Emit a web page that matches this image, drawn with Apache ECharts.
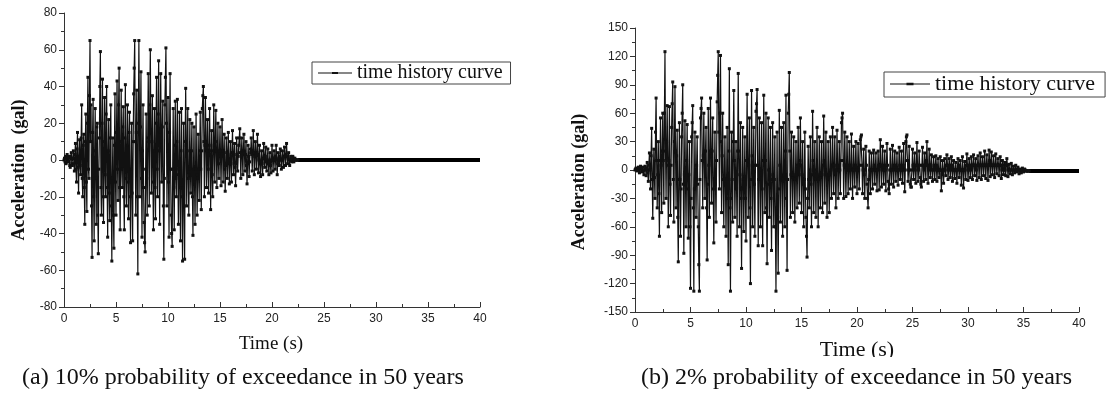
<!DOCTYPE html>
<html><head><meta charset="utf-8">
<script src="https://cdn.jsdelivr.net/npm/echarts@6/dist/echarts.min.js"></script>
<style>html,body{margin:0;padding:0;background:#fff}#c{width:1107px;height:405px}</style>
</head><body><div id="c"></div>
<script>
// sampling step (s) of the digitised records
const dtA = 0.05, dtB = 0.05;
// (a) 10% in 50 years, values every 0.05 s from t=0 (one row per second)
const accA = [
 0,1,-1,2,-2,1,3,-1,-1,2,1,-3,-4,2,4,-2,-3,1,5,-2,
 -6,3,9,-5,-12,6,15,-4,-18,2,11,-3,-8,12,30,-10,-20,8,14,-15,
 -35,10,25,-12,-28,20,45,-5,-10,35,65,10,30,-25,-53,15,33,-20,-44,5,
 28,-10,-35,18,20,-30,-51,-5,12,40,59,-15,-30,20,44,-20,-34,10,34,-8,
 -20,25,40,-15,-42,5,22,-18,-33,12,30,-25,-55,-10,12,-30,-48,8,36,-12,
 -30,15,43,-5,-22,30,50,-15,-38,10,38,-5,-15,18,29,-20,-38,12,41,-10,
 -25,8,30,-12,-32,15,26,-20,-45,-5,20,-18,-44,10,36,50,65,10,-30,15,
 38,-20,-62,20,65,25,-20,18,48,-10,-42,5,30,-15,-34,-45,-50,-5,25,-10,
 -30,12,47,10,-25,30,60,15,-18,10,35,-12,-38,5,28,-15,-32,20,45,-5,
 -20,25,54,5,-35,15,47,10,-12,18,32,-25,-54,-10,30,45,61,20,-25,5,
 34,-12,-42,15,47,-5,-30,-40,-47,-5,28,-15,-38,8,32,-10,-20,10,33,-8,
 -35,-5,26,-15,-44,5,28,-20,-55,-15,20,-25,-54,10,39,8,-25,5,28,-10,
 -30,-8,22,-5,-18,5,20,-20,-41,-5,18,-12,-35,-5,25,-8,-30,-10,14,-5,
 -22,5,26,-5,-27,5,28,35,40,10,-20,8,34,10,-15,5,22,-5,-18,8,
 28,5,-27,-5,16,-8,-20,5,30,8,-12,10,27,5,-15,3,20,-2,-10,5,
 18,2,-14,3,22,5,-12,2,14,-5,-17,-3,12,4,-10,3,15,-2,-13,0,
 10,-2,-12,4,16,4,-8,3,9,-4,-14,-2,12,3,-6,2,8,12,17,4,
 -10,2,12,3,-8,5,14,4,-6,3,10,-3,-13,-2,8,2,-9,-1,6,4,
 12,3,-6,5,16,4,-8,2,10,3,-5,4,14,3,-7,0,8,-2,-9,-1,
 5,-2,-8,1,9,2,-4,2,7,-1,-6,0,6,-2,-8,-1,4,-3,-7,0,
 8,1,-6,0,5,0,-5,2,8,0,-8,-2,4,1,-3,2,6,0,-5,0,
 5,1,-4,2,7,2,-3,3,9,2,-2,1,4,0,-3,0,2,0,-1,0,
 2,1,-1,0,1,0,0,0,0,0,0
];
const tailA = [[22.5,0],[40,0]];
// (b) 2% in 50 years, values every 0.05 s from t=0 (one row per second)
const accB = [
 0,1,2,0,-1,1,3,0,-3,1,4,2,-2,0,3,-1,-5,0,4,1,
 -6,2,8,-3,-12,5,18,0,-20,15,44,-10,-51,-5,22,-8,-30,40,76,10,
 -40,-5,30,-25,-70,10,55,5,-45,20,60,10,-35,60,125,20,-30,30,68,5,
 -60,10,67,-15,-48,5,45,70,93,-10,-55,30,88,20,-40,15,42,-50,-97,-10,
 50,-10,-70,-20,35,60,90,-15,-88,-5,52,-15,-60,10,48,-20,-72,-5,30,-60,
 -125,-30,35,50,68,-40,-128,-20,40,-10,-50,5,35,-15,-60,-100,-128,-10,55,65,
 76,10,-40,15,60,10,-30,20,45,-40,-95,-15,65,5,-50,20,76,15,-35,20,
 55,-20,-77,-10,40,-15,-55,10,72,100,125,40,-20,60,121,30,-45,15,60,-10,
 -60,-10,35,-15,-70,-10,45,-30,-100,20,107,-40,-128,-30,40,-10,-55,30,84,10,
 -50,-10,30,-20,-70,20,102,20,-60,-5,50,-30,-104,-20,45,-10,-65,-10,35,-30,
 -75,10,80,10,-50,5,55,-40,-120,-10,84,15,-60,-5,45,-15,-70,5,62,70,
 85,5,-80,-10,55,0,-60,-5,50,-20,-80,10,79,10,-45,10,60,-40,-99,-15,
 55,0,-50,-5,45,-30,-85,-10,50,-5,-60,-10,35,-60,-128,-40,40,-50,-109,-20,
 63,5,-55,-5,45,-10,-70,-10,50,-5,-60,20,79,-30,-106,-10,60,80,103,20,
 -50,-5,40,-5,-45,-5,35,-10,-55,-10,30,-5,-40,5,45,-5,-35,10,55,5,
 -45,-5,30,-15,-60,-10,40,-20,-50,-70,-92,-30,25,-10,-40,0,35,-15,-60,-5,
 62,10,-45,-5,30,-10,-50,0,45,-10,-60,-10,35,-5,-40,-5,30,-5,-45,5,
 57,10,-35,0,40,-5,-50,-10,30,-5,-45,-5,35,0,-30,5,45,5,-25,5,
 35,-5,-40,0,42,5,-30,0,30,0,-25,10,50,55,60,10,-30,5,40,5,
 -28,0,35,5,-25,0,30,0,-20,5,38,0,-30,0,25,0,-18,5,30,0,
 -25,0,28,0,-20,5,32,35,37,5,-25,0,22,-5,-30,0,25,5,-15,-30,
 -40,-10,20,0,-25,0,18,0,-20,0,21,5,-15,0,18,0,-22,0,20,5,
 -21,5,32,5,-18,0,25,5,-15,0,20,0,-22,5,28,5,-12,-20,-25,0,
 22,0,-15,0,26,5,-18,0,20,5,-12,0,18,0,-16,0,24,5,-10,0,
 20,0,-14,5,28,0,-23,0,30,35,37,10,-12,0,25,0,-15,-18,-18,0,
 22,5,-10,5,18,0,-14,5,29,5,-12,0,20,5,-8,-15,-18,5,24,5,
 -12,0,18,5,-10,10,30,5,-14,0,22,5,-8,5,16,0,-12,0,14,5,
 -10,0,15,5,-12,0,12,0,-8,0,14,0,-22,-5,10,0,-14,0,12,0,
 -6,5,16,5,-10,0,12,5,-8,0,14,5,-12,0,10,0,-9,0,8,0,
 -14,0,12,5,-8,0,10,0,-16,0,14,0,-19,0,9,0,-10,5,17,5,
 -11,0,12,5,-8,0,14,5,-10,5,16,5,-6,5,12,0,-11,5,15,5,
 -8,5,18,5,-10,5,14,5,-6,5,20,5,-9,5,16,5,-11,5,21,10,
 -7,5,19,5,-5,5,15,5,-8,5,17,5,-4,5,12,5,-6,5,14,5,
 -9,0,10,5,-5,0,8,0,-6,5,12,5,-7,0,6,0,-4,0,7,0,
 -5,0,4,0,-3,0,5,0,-2,0,3,0,-4,0,1,-1,-3,0,2,0,
 -2,0,1,0,-1,-1,-1,-1,-1,-1,-1
];
const tailB = [[35.5,-1],[40,-1]];
const xTicks = {min:0,max:40,interval:5};
const yTicksA = {min:-80,max:80,interval:20};
const yTicksB = {min:-150,max:150,interval:30};
const seriesName = 'time history curve';
const yTitleA = 'Acceleration  (gal)', yTitleB = 'Acceleration (gal)', xTitle = 'Time (s)';
const captionA = '(a) 10% probability of exceedance in 50 years';
const captionB = '(b) 2% probability of exceedance in 50 years';

const toXY = (arr, dt) => arr.map((v,i)=>[+(i*dt).toFixed(2), v]);

const axisLine = {show:true, onZero:false, lineStyle:{color:'#333', width:1}};
const labelSans = {fontFamily:'Liberation Sans', fontSize:12, color:'#222'};
function xAxis(idx){
  return {type:'value', gridIndex:idx, min:xTicks.min, max:xTicks.max, interval:xTicks.interval,
    axisLine, axisTick:{show:true, inside:true, length:5, lineStyle:{color:'#333'}},
    minorTick:{show:true, splitNumber:2, length:3, lineStyle:{color:'#333'}},
    splitLine:{show:false}, axisLabel:Object.assign({margin:6}, labelSans)};
}
function yAxis(idx, t){
  return {type:'value', gridIndex:idx, min:t.min, max:t.max, interval:t.interval,
    axisLine, axisTick:{show:true, inside:false, length:5, lineStyle:{color:'#333'}},
    minorTick:{show:true, splitNumber:2, length:3, lineStyle:{color:'#333'}},
    splitLine:{show:false}, axisLabel:Object.assign({margin:7}, labelSans)};
}
function mainSeries(idx, data){
  return {name:seriesName, type:'line', xAxisIndex:idx, yAxisIndex:idx, data,
    symbol:'rect', symbolSize:3, showSymbol:true, showAllSymbol:true, animation:false,
    lineStyle:{color:'#111', width:1.2}, itemStyle:{color:'#111'}};
}
function tailSeries(idx, data){
  return {name:'tail', type:'line', xAxisIndex:idx, yAxisIndex:idx, data,
    symbol:'none', animation:false, lineStyle:{color:'#000', width:4}};
}
const legendBase = {data:[{name:seriesName, icon:'path://M0,4.5H14V3.5H0Z M14,3H20V5H14Z M20,3.5H34V4.5H20Z'}],
  orient:'horizontal', backgroundColor:'#fff',
  borderColor:'#444', borderWidth:1, borderRadius:0, selectedMode:false, itemGap:4};
const serif = '"Liberation Serif"';

const chart = echarts.init(document.getElementById('c'), null, {renderer:'canvas'});
chart.setOption({
  animation:false,
  grid:[{left:64, top:13, width:416, height:294},{left:635, top:28, width:444, height:284}],
  xAxis:[xAxis(0), xAxis(1)],
  yAxis:[yAxis(0, yTicksA), yAxis(1, yTicksB)],
  legend:[
    Object.assign({}, legendBase, {left:312, top:62, padding:[1,8,1,6], itemWidth:34, itemHeight:8,
      textStyle:{fontFamily:'Liberation Serif', fontSize:20, color:'#111'}}),
    Object.assign({}, legendBase, {left:884, top:72, padding:[1,10,2,6], itemWidth:40, itemHeight:8,
      textStyle:{fontFamily:'Liberation Serif', fontSize:22, color:'#111'}})
  ],
  series:[mainSeries(0, toXY(accA, dtA)), tailSeries(0, tailA),
          mainSeries(1, toXY(accB, dtB)), tailSeries(1, tailB)],
  graphic:[
    {type:'text', x:19, y:170, rotation:Math.PI/2, style:{text:yTitleA, font:'bold 18px '+serif, fill:'#111', align:'center', verticalAlign:'middle'}},
    {type:'text', x:579, y:182, rotation:Math.PI/2, style:{text:yTitleB, font:'bold 18px '+serif, fill:'#111', align:'center', verticalAlign:'middle'}},
    {type:'text', x:271, y:344, style:{text:xTitle, font:'19px '+serif, fill:'#111', align:'center', verticalAlign:'middle'}},
    {type:'text', x:857, y:350, style:{text:xTitle, font:'22px '+serif, fill:'#111', align:'center', verticalAlign:'middle'}},
    {type:'rect', z:100, shape:{x:790, y:357, width:140, height:8}, style:{fill:'#fff'}},
    {type:'text', left:22, top:366, style:{text:captionA, font:'24px '+serif, fill:'#111'}},
    {type:'text', left:641, top:366, style:{text:captionB, font:'24px '+serif, fill:'#111'}}
  ]
});
</script></body></html>
